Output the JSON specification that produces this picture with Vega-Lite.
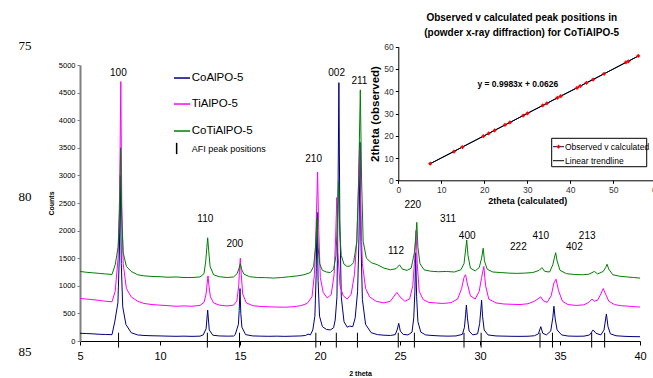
{
"$schema":"https://vega.github.io/schema/vega-lite/v6.json",
"width":560,"height":276,
"autosize":{"type":"none"},
"padding":{"left":80,"top":65,"right":13,"bottom":37},
"background":"white",
"config":{"view":{"stroke":null},"font":"Liberation Sans","axis":{"grid":false,"labelFlush":false,"labelOverlap":false}},
"datasets":{
"co":[{"t":5,"c":140},{"t":5.4,"c":135},{"t":5.8,"c":130},{"t":6.2,"c":122},{"t":6.6,"c":118},{"t":7,"c":115},{"t":7.17,"c":345},{"t":7.37,"c":692},{"t":7.46,"c":1557},{"t":7.52,"c":3000},{"t":7.58,"c":1400},{"t":7.67,"c":620},{"t":7.87,"c":300},{"t":8.2,"c":150},{"t":8.6,"c":110},{"t":9,"c":100},{"t":9.5,"c":95},{"t":10,"c":92},{"t":10.5,"c":88},{"t":11,"c":85},{"t":11.5,"c":88},{"t":12,"c":84},{"t":12.5,"c":88},{"t":12.7,"c":110},{"t":12.88,"c":220},{"t":12.98,"c":560},{"t":13.08,"c":200},{"t":13.3,"c":105},{"t":13.7,"c":92},{"t":14.2,"c":88},{"t":14.6,"c":90},{"t":14.7,"c":115},{"t":14.9,"c":300},{"t":14.95,"c":550},{"t":15,"c":950},{"t":15.05,"c":500},{"t":15.12,"c":250},{"t":15.35,"c":115},{"t":15.8,"c":92},{"t":16.3,"c":88},{"t":16.8,"c":85},{"t":17.3,"c":88},{"t":17.8,"c":84},{"t":18.3,"c":88},{"t":18.8,"c":92},{"t":19.1,"c":100},{"t":19.25,"c":125},{"t":19.4,"c":110},{"t":19.55,"c":200},{"t":19.68,"c":450},{"t":19.76,"c":1200},{"t":19.82,"c":2330},{"t":19.88,"c":1100},{"t":19.97,"c":450},{"t":20.15,"c":260},{"t":20.4,"c":210},{"t":20.65,"c":200},{"t":20.85,"c":240},{"t":20.95,"c":380},{"t":21.06,"c":800},{"t":21.12,"c":2400},{"t":21.18,"c":4680},{"t":21.24,"c":2200},{"t":21.33,"c":800},{"t":21.5,"c":350},{"t":21.7,"c":250},{"t":21.85,"c":270},{"t":22.05,"c":260},{"t":22.2,"c":420},{"t":22.35,"c":900},{"t":22.44,"c":1900},{"t":22.5,"c":3600},{"t":22.56,"c":1800},{"t":22.65,"c":750},{"t":22.85,"c":300},{"t":23.2,"c":150},{"t":23.6,"c":115},{"t":24,"c":105},{"t":24.4,"c":100},{"t":24.7,"c":115},{"t":24.82,"c":200},{"t":24.92,"c":320},{"t":25.02,"c":180},{"t":25.2,"c":120},{"t":25.5,"c":110},{"t":25.75,"c":160},{"t":25.86,"c":420},{"t":25.93,"c":900},{"t":25.98,"c":1600},{"t":26.04,"c":800},{"t":26.12,"c":350},{"t":26.3,"c":160},{"t":26.6,"c":110},{"t":27,"c":100},{"t":27.5,"c":92},{"t":28,"c":88},{"t":28.5,"c":92},{"t":28.9,"c":120},{"t":29.03,"c":250},{"t":29.1,"c":480},{"t":29.15,"c":650},{"t":29.22,"c":400},{"t":29.32,"c":180},{"t":29.55,"c":110},{"t":29.85,"c":130},{"t":29.98,"c":320},{"t":30.05,"c":560},{"t":30.1,"c":740},{"t":30.16,"c":450},{"t":30.26,"c":200},{"t":30.5,"c":110},{"t":31,"c":92},{"t":31.5,"c":88},{"t":32,"c":85},{"t":32.5,"c":84},{"t":33,"c":86},{"t":33.4,"c":95},{"t":33.65,"c":130},{"t":33.8,"c":260},{"t":33.92,"c":140},{"t":34.15,"c":110},{"t":34.42,"c":180},{"t":34.55,"c":420},{"t":34.62,"c":630},{"t":34.7,"c":400},{"t":34.82,"c":200},{"t":35.1,"c":110},{"t":35.5,"c":90},{"t":36,"c":86},{"t":36.5,"c":88},{"t":36.85,"c":110},{"t":37.07,"c":200},{"t":37.25,"c":140},{"t":37.55,"c":110},{"t":37.75,"c":200},{"t":37.9,"c":490},{"t":38,"c":260},{"t":38.15,"c":130},{"t":38.5,"c":95},{"t":39,"c":85},{"t":39.5,"c":80},{"t":40,"c":78}],
"ti":[{"t":5,"c":770},{"t":5.4,"c":760},{"t":5.8,"c":750},{"t":6.2,"c":735},{"t":6.6,"c":720},{"t":7,"c":710},{"t":7.2,"c":900},{"t":7.38,"c":1500},{"t":7.48,"c":2700},{"t":7.55,"c":4700},{"t":7.61,"c":2500},{"t":7.7,"c":1400},{"t":7.9,"c":950},{"t":8.2,"c":800},{"t":8.6,"c":720},{"t":9,"c":680},{"t":9.5,"c":660},{"t":10,"c":650},{"t":10.5,"c":640},{"t":11,"c":630},{"t":11.5,"c":635},{"t":12,"c":630},{"t":12.5,"c":645},{"t":12.75,"c":700},{"t":12.88,"c":850},{"t":12.95,"c":1050},{"t":13,"c":1180},{"t":13.06,"c":1000},{"t":13.15,"c":800},{"t":13.35,"c":690},{"t":13.7,"c":650},{"t":14.2,"c":635},{"t":14.6,"c":650},{"t":14.8,"c":720},{"t":14.92,"c":1000},{"t":14.97,"c":1300},{"t":15.02,"c":1500},{"t":15.08,"c":1200},{"t":15.17,"c":850},{"t":15.4,"c":690},{"t":15.8,"c":640},{"t":16.3,"c":625},{"t":16.8,"c":620},{"t":17.3,"c":615},{"t":17.8,"c":612},{"t":18.3,"c":620},{"t":18.8,"c":640},{"t":19.2,"c":680},{"t":19.5,"c":800},{"t":19.65,"c":1200},{"t":19.75,"c":2000},{"t":19.85,"c":3060},{"t":19.92,"c":2000},{"t":20.02,"c":1150},{"t":20.2,"c":880},{"t":20.45,"c":780},{"t":20.7,"c":840},{"t":20.88,"c":1200},{"t":20.98,"c":1900},{"t":21.05,"c":2600},{"t":21.12,"c":1600},{"t":21.25,"c":1000},{"t":21.45,"c":820},{"t":21.7,"c":760},{"t":21.95,"c":850},{"t":22.15,"c":1200},{"t":22.3,"c":1800},{"t":22.4,"c":2700},{"t":22.47,"c":3500},{"t":22.55,"c":2300},{"t":22.65,"c":1400},{"t":22.85,"c":950},{"t":23.1,"c":800},{"t":23.5,"c":720},{"t":24,"c":690},{"t":24.4,"c":720},{"t":24.6,"c":800},{"t":24.8,"c":880},{"t":25,"c":800},{"t":25.3,"c":720},{"t":25.6,"c":760},{"t":25.8,"c":1000},{"t":25.92,"c":1500},{"t":26,"c":2000},{"t":26.08,"c":1400},{"t":26.2,"c":900},{"t":26.45,"c":750},{"t":26.8,"c":700},{"t":27.2,"c":690},{"t":27.7,"c":680},{"t":28.2,"c":695},{"t":28.6,"c":760},{"t":28.85,"c":950},{"t":29,"c":1150},{"t":29.1,"c":1200},{"t":29.2,"c":1050},{"t":29.4,"c":820},{"t":29.7,"c":760},{"t":29.95,"c":900},{"t":30.1,"c":1150},{"t":30.24,"c":1350},{"t":30.35,"c":1000},{"t":30.55,"c":760},{"t":31,"c":690},{"t":31.5,"c":670},{"t":32,"c":665},{"t":32.5,"c":660},{"t":33,"c":675},{"t":33.4,"c":720},{"t":33.7,"c":780},{"t":33.8,"c":800},{"t":33.95,"c":730},{"t":34.2,"c":700},{"t":34.45,"c":820},{"t":34.62,"c":1050},{"t":34.75,"c":1120},{"t":34.9,"c":920},{"t":35.15,"c":720},{"t":35.5,"c":660},{"t":36,"c":645},{"t":36.5,"c":655},{"t":36.8,"c":700},{"t":37,"c":760},{"t":37.15,"c":720},{"t":37.35,"c":740},{"t":37.55,"c":850},{"t":37.7,"c":950},{"t":37.85,"c":850},{"t":38.05,"c":720},{"t":38.4,"c":660},{"t":38.8,"c":640},{"t":39.3,"c":630},{"t":39.7,"c":620},{"t":40,"c":615}],
"coti":[{"t":5,"c":1260},{"t":5.4,"c":1245},{"t":5.8,"c":1235},{"t":6.2,"c":1225},{"t":6.6,"c":1215},{"t":7,"c":1205},{"t":7.2,"c":1380},{"t":7.38,"c":1700},{"t":7.48,"c":2400},{"t":7.54,"c":3500},{"t":7.6,"c":2300},{"t":7.7,"c":1600},{"t":7.9,"c":1350},{"t":8.2,"c":1260},{"t":8.6,"c":1200},{"t":9,"c":1180},{"t":9.5,"c":1170},{"t":10,"c":1165},{"t":10.5,"c":1155},{"t":11,"c":1160},{"t":11.5,"c":1150},{"t":12,"c":1150},{"t":12.5,"c":1160},{"t":12.75,"c":1220},{"t":12.86,"c":1450},{"t":12.93,"c":1700},{"t":12.98,"c":1870},{"t":13.04,"c":1650},{"t":13.13,"c":1350},{"t":13.35,"c":1200},{"t":13.7,"c":1165},{"t":14.2,"c":1150},{"t":14.6,"c":1160},{"t":14.82,"c":1220},{"t":14.94,"c":1320},{"t":15.02,"c":1400},{"t":15.1,"c":1300},{"t":15.25,"c":1210},{"t":15.6,"c":1165},{"t":16.1,"c":1150},{"t":16.6,"c":1148},{"t":17.1,"c":1140},{"t":17.6,"c":1150},{"t":18.1,"c":1165},{"t":18.6,"c":1180},{"t":19,"c":1200},{"t":19.4,"c":1240},{"t":19.6,"c":1350},{"t":19.72,"c":1700},{"t":19.81,"c":2230},{"t":19.88,"c":1700},{"t":19.98,"c":1400},{"t":20.15,"c":1280},{"t":20.4,"c":1250},{"t":20.65,"c":1240},{"t":20.85,"c":1300},{"t":21,"c":1550},{"t":21.09,"c":2200},{"t":21.16,"c":2900},{"t":21.23,"c":2000},{"t":21.33,"c":1550},{"t":21.5,"c":1390},{"t":21.7,"c":1350},{"t":21.9,"c":1360},{"t":22.1,"c":1420},{"t":22.3,"c":1800},{"t":22.42,"c":3000},{"t":22.52,"c":4550},{"t":22.6,"c":2900},{"t":22.7,"c":1800},{"t":22.9,"c":1500},{"t":23.2,"c":1420},{"t":23.6,"c":1380},{"t":24,"c":1320},{"t":24.4,"c":1290},{"t":24.75,"c":1310},{"t":24.97,"c":1380},{"t":25.15,"c":1300},{"t":25.45,"c":1280},{"t":25.7,"c":1320},{"t":25.9,"c":1600},{"t":25.99,"c":1900},{"t":26.05,"c":2150},{"t":26.12,"c":1700},{"t":26.25,"c":1400},{"t":26.5,"c":1290},{"t":26.9,"c":1265},{"t":27.4,"c":1255},{"t":27.9,"c":1260},{"t":28.4,"c":1250},{"t":28.8,"c":1290},{"t":29,"c":1400},{"t":29.1,"c":1650},{"t":29.17,"c":1830},{"t":29.25,"c":1550},{"t":29.4,"c":1320},{"t":29.7,"c":1270},{"t":29.95,"c":1330},{"t":30.1,"c":1500},{"t":30.2,"c":1680},{"t":30.28,"c":1450},{"t":30.45,"c":1300},{"t":30.8,"c":1250},{"t":31.3,"c":1240},{"t":31.8,"c":1230},{"t":32.3,"c":1225},{"t":32.8,"c":1230},{"t":33.3,"c":1240},{"t":33.7,"c":1280},{"t":33.87,"c":1330},{"t":34.05,"c":1260},{"t":34.35,"c":1250},{"t":34.55,"c":1380},{"t":34.66,"c":1520},{"t":34.73,"c":1600},{"t":34.82,"c":1450},{"t":35,"c":1280},{"t":35.4,"c":1220},{"t":35.9,"c":1205},{"t":36.4,"c":1200},{"t":36.8,"c":1210},{"t":37.15,"c":1260},{"t":37.35,"c":1215},{"t":37.7,"c":1260},{"t":37.85,"c":1330},{"t":37.94,"c":1390},{"t":38.05,"c":1300},{"t":38.3,"c":1200},{"t":38.7,"c":1175},{"t":39.2,"c":1160},{"t":39.6,"c":1150},{"t":40,"c":1140}],
"afi":[{"t":7.41},{"t":12.96},{"t":14.97},{"t":19.74},{"t":21.02},{"t":22.34},{"t":24.89},{"t":25.9},{"t":29.0},{"t":30.07},{"t":33.75},{"t":34.53},{"t":36.98},{"t":37.79}],
"hkl":[{"lab":"100","t":7.4,"c":4860},{"lab":"110","t":12.83,"c":2210},{"lab":"200","t":14.67,"c":1757},{"lab":"210","t":19.6,"c":3297},{"lab":"002","t":21.04,"c":4850},{"lab":"211","t":22.46,"c":4716},{"lab":"112","t":24.75,"c":1630},{"lab":"220","t":25.8,"c":2464},{"lab":"311","t":28.0,"c":2205},{"lab":"400","t":29.2,"c":1902},{"lab":"222","t":32.4,"c":1697},{"lab":"410","t":33.8,"c":1902},{"lab":"402","t":35.9,"c":1697},{"lab":"213","t":36.7,"c":1902}],
"leg":[{"s":"CoAlPO-5","c":4764},{"s":"TiAlPO-5","c":4293},{"s":"CoTiAlPO-5","c":3804}],
"pages":[{"n":"75","c":5344},{"n":"80","c":2609},{"n":"85","c":-199}],
"pts":[{"calc":7.42,"obs":7.45},{"calc":12.95,"obs":12.93},{"calc":14.9,"obs":14.95},{"calc":19.77,"obs":19.8},{"calc":21.02,"obs":21.05},{"calc":22.4,"obs":22.42},{"calc":24.8,"obs":24.85},{"calc":25.95,"obs":25.97},{"calc":29.05,"obs":29.1},{"calc":30.05,"obs":30.1},{"calc":33.6,"obs":33.65},{"calc":34.55,"obs":34.6},{"calc":37.0,"obs":37.05},{"calc":37.8,"obs":37.85},{"calc":41.55,"obs":41.5},{"calc":42.3,"obs":42.3},{"calc":43.75,"obs":43.8},{"calc":45.3,"obs":45.25},{"calc":47.85,"obs":47.8},{"calc":52.9,"obs":52.95},{"calc":53.5,"obs":53.45},{"calc":55.8,"obs":55.85}],
"trend":[{"calc":7.4,"obs":7.45},{"calc":55.9,"obs":55.87}]
},
"layer":[
{
"layer":[
{"data":{"name":"co"},"mark":{"type":"line","color":"#000080","strokeWidth":1},"encoding":{
"x":{"field":"t","type":"quantitative","scale":{"domain":[5,40],"nice":false,"zero":false},"axis":{"values":[5,10,15,20,25,30,35,40],"title":"2 theta","titleFontSize":7,"titleFontWeight":"bold","titlePadding":8,"labelFontSize":11,"labelPadding":5,"tickSize":4,"domainColor":"#000","tickColor":"#000","labelColor":"#000","titleColor":"#000"}},
"y":{"field":"c","type":"quantitative","scale":{"domain":[0,5000],"nice":false,"zero":false},"axis":{"values":[0,500,1000,1500,2000,2500,3000,3500,4000,4500,5000],"tickCount":11,"labelOverlap":false,"format":"d","title":"Counts","titleFontSize":7,"titleFontWeight":"bold","titlePadding":4,"labelFontSize":7.5,"labelPadding":2,"tickSize":3,"domainColor":"#808080","domainWidth":2,"tickColor":"#808080","labelColor":"#000","titleColor":"#000"}}}},
{"data":{"name":"ti"},"mark":{"type":"line","color":"#ff00ff","strokeWidth":1},"encoding":{"x":{"field":"t","type":"quantitative"},"y":{"field":"c","type":"quantitative"}}},
{"data":{"name":"coti"},"mark":{"type":"line","color":"#008000","strokeWidth":1},"encoding":{"x":{"field":"t","type":"quantitative"},"y":{"field":"c","type":"quantitative"}}},
{"data":{"name":"afi"},"mark":{"type":"rule","color":"#000","strokeWidth":1},"encoding":{"x":{"field":"t","type":"quantitative"},"y":{"datum":-120},"y2":{"datum":150}}},
{"data":{"name":"hkl"},"mark":{"type":"text","fontSize":10,"color":"#000","baseline":"middle"},"encoding":{"x":{"field":"t","type":"quantitative"},"y":{"field":"c","type":"quantitative"},"text":{"field":"lab"}}},
{"data":{"name":"leg"},"mark":{"type":"rule","strokeWidth":1.5},"encoding":{"x":{"datum":10.875},"x2":{"datum":11.875},"y":{"field":"c","type":"quantitative"},"color":{"field":"s","type":"nominal","scale":{"domain":["CoAlPO-5","TiAlPO-5","CoTiAlPO-5"],"range":["#000080","#ff00ff","#008000"]},"legend":null}}},
{"data":{"name":"leg"},"mark":{"type":"text","fontSize":11.5,"align":"left","baseline":"middle","color":"#000"},"encoding":{"x":{"datum":11.98},"y":{"field":"c","type":"quantitative"},"text":{"field":"s"}}},
{"data":{"values":[{"lab":"AFI peak positions"}]},"mark":{"type":"rule","color":"#000","strokeWidth":1.5},"encoding":{"x":{"datum":11.04},"y":{"datum":3590},"y2":{"datum":3385}}},
{"data":{"values":[{"lab":"AFI peak positions"}]},"mark":{"type":"text","fontSize":9,"align":"left","baseline":"middle","color":"#000"},"encoding":{"x":{"datum":11.98},"y":{"datum":3478},"text":{"field":"lab"}}},
{"data":{"name":"pages"},"mark":{"type":"text","font":"Liberation Serif","fontSize":13,"baseline":"middle","color":"#000"},"encoding":{"x":{"datum":1.56},"y":{"field":"c","type":"quantitative"},"text":{"field":"n"}}}
]
},
{
"layer":[
{"data":{"name":"pts"},"mark":{"type":"line","color":"#000080","strokeWidth":1},"encoding":{
"x":{"field":"calc","type":"quantitative","scale":{"domain":[0,60],"range":[318.3,576.3],"nice":false,"zero":false},"axis":{"orient":"bottom","offset":-160.7,"values":[0,10,20,30,40,50,60],"title":"2theta (calculated)","titleFontSize":9,"titleFontWeight":"bold","titlePadding":3,"labelFontSize":8.5,"labelPadding":2,"tickSize":3,"domainColor":"#000","tickColor":"#000","labelColor":"#333","titleColor":"#000"}},
"y":{"field":"obs","type":"quantitative","scale":{"domain":[0,60],"range":[115.3,-18.3],"nice":false,"zero":false},"axis":{"orient":"left","offset":-318.3,"values":[0,10,20,30,40,50,60],"title":"2theta (observed)","titleFontSize":11.5,"titleFontWeight":"bold","titlePadding":3,"labelFontSize":8.5,"labelPadding":2,"tickSize":3,"domainColor":"#000","tickColor":"#000","labelColor":"#333","titleColor":"#000"}}}},
{"data":{"name":"trend"},"mark":{"type":"line","color":"#000","strokeWidth":1},"encoding":{"x":{"field":"calc","type":"quantitative"},"y":{"field":"obs","type":"quantitative"}}},
{"data":{"name":"pts"},"mark":{"type":"point","shape":"diamond","filled":true,"color":"#ff0000","size":18,"opacity":1},"encoding":{"x":{"field":"calc","type":"quantitative"},"y":{"field":"obs","type":"quantitative"}}},
{"data":{"values":[{"eq":"y = 0.9983x + 0.0626"}]},"mark":{"type":"text","fontSize":8.5,"fontWeight":"bold","color":"#000"},"encoding":{"x":{"datum":27.8},"y":{"datum":43.2},"text":{"field":"eq"}}},
{"data":{"values":[{"line":"Observed v calculated peak positions in","obs":72.7},{"line":"(powder x-ray diffraction) for CoTiAlPO-5","obs":66.0}]},"mark":{"type":"text","fontSize":10,"fontWeight":"bold","color":"#000","baseline":"middle"},"encoding":{"x":{"datum":28.7},"y":{"field":"obs","type":"quantitative"},"text":{"field":"line"}}},
{"data":{"values":[{}]},"mark":{"type":"rect","fill":"white","stroke":"#000","strokeWidth":1},"encoding":{"x":{"datum":35.67},"x2":{"datum":57.77},"y":{"datum":18.86},"y2":{"datum":6.1}}},
{"data":{"values":[{}]},"mark":{"type":"rule","color":"#000080","strokeWidth":1},"encoding":{"x":{"datum":35.98},"x2":{"datum":38.54},"y":{"datum":15.09}}},
{"data":{"values":[{}]},"mark":{"type":"point","shape":"diamond","filled":true,"color":"#ff0000","size":18,"opacity":1},"encoding":{"x":{"datum":37.26},"y":{"datum":15.09}}},
{"data":{"values":[{}]},"mark":{"type":"rule","color":"#000","strokeWidth":1},"encoding":{"x":{"datum":35.98},"x2":{"datum":38.54},"y":{"datum":8.8}}},
{"data":{"values":[{"lab":"Observed v calculated","obs":15.09},{"lab":"Linear trendline","obs":8.8}]},"mark":{"type":"text","fontSize":8.5,"align":"left","baseline":"middle","color":"#000"},"encoding":{"x":{"datum":38.77},"y":{"field":"obs","type":"quantitative"},"text":{"field":"lab"}}}
]
}
],
"resolve":{"scale":{"x":"independent","y":"independent"},"axis":{"x":"independent","y":"independent"}}
}
